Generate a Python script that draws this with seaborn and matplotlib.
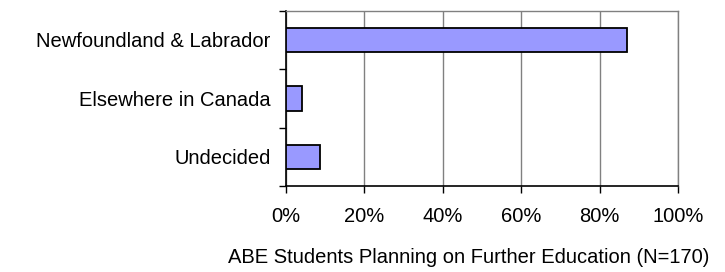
import matplotlib
matplotlib.use("Agg")
import matplotlib.pyplot as plt
import seaborn as sns
import pandas as pd
from matplotlib.ticker import PercentFormatter

categories = ["Newfoundland & Labrador", "Elsewhere in Canada", "Undecided"]
values = [87.1, 4.1, 8.8]
x_ticks = [0, 20, 40, 60, 80, 100]
x_label = "ABE Students Planning on Further Education (N=170)"

sns.set_style("white")
plt.rcParams['font.family'] = ['Liberation Sans', 'DejaVu Sans']
plt.rcParams['text.color'] = 'black'
plt.rcParams['xtick.color'] = 'black'
plt.rcParams['ytick.color'] = 'black'
plt.rcParams['axes.labelcolor'] = 'black'

df = pd.DataFrame({"cat": categories, "val": values})

fig = plt.figure(figsize=(7.25, 2.72), dpi=100)
ax = fig.add_axes([286/725, 1-186/272, (678-286)/725, (186-10.7)/272])

sns.barplot(data=df, x="val", y="cat", orient="h", color="#9999FF",
            edgecolor="black", linewidth=1.3, width=0.42, saturation=1, ax=ax, zorder=3)

fs = 14.5
ax.set_xlim(0, 100)
ax.set_ylim(2.5, -0.5)
ax.set_xticks(x_ticks)
ax.xaxis.set_major_formatter(PercentFormatter(decimals=0))
ax.grid(axis="x", color="#808080", linewidth=1.0, zorder=0)
ax.set_axisbelow(True)

ax.set_yticks([-0.5, 0.5, 1.5, 2.5], minor=False)
ax.set_yticklabels([])
ax.set_yticks([0, 1, 2], minor=True)
ax.set_yticklabels(categories, minor=True)
ax.tick_params(axis="y", which="major", length=5, width=1, color="black", direction="out", left=True)
ax.tick_params(axis="y", which="minor", length=0, pad=11, labelsize=fs, labelcolor="black")
ax.tick_params(axis="x", length=5, width=1, color="black", direction="out", bottom=True,
               labelsize=fs, pad=10, labelcolor="black")

for s in ["left", "bottom"]:
    ax.spines[s].set_color("black")
    ax.spines[s].set_linewidth(1.2)
for s in ["top", "right"]:
    ax.spines[s].set_color("#808080")
    ax.spines[s].set_linewidth(1.0)

ax.set_ylabel("")
ax.set_xlabel(x_label, fontsize=fs, labelpad=15, color="black")
ax.xaxis.set_label_coords(0.467, -0.355)

fig.savefig("out.png", dpi=100)
